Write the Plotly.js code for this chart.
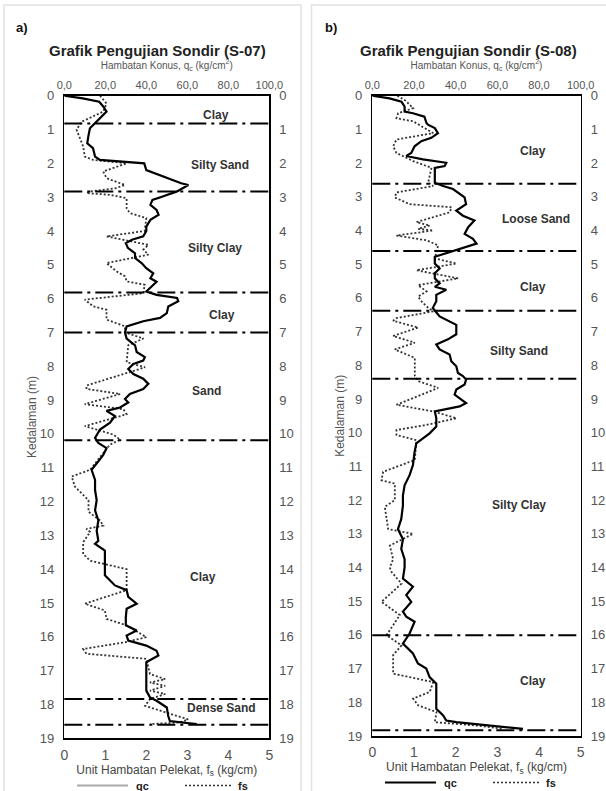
<!DOCTYPE html>
<html>
<head>
<meta charset="utf-8">
<script src="https://cdn.plot.ly/plotly-3.0.1.min.js"></script>
<style>html,body{margin:0;padding:0;background:#fff;}#chart{width:606px;height:791px;}</style>
</head>
<body>
<div id="chart"></div>
<script>
// ---------- DATA ----------
var depthTicks = [0,1,2,3,4,5,6,7,8,9,10,11,12,13,14,15,16,17,18,19];
var qcTickVals = [0,20,40,60,80,100];
var qcTickText = ["0,0","20,0","40,0","60,0","80,0","100,0"];
var fsTickVals = [0,1,2,3,4,5];

// S-07 : cone resistance qc (kg/cm2) vs depth (m)
var depthA_qc = [0,0.08,0.18,0.32,0.47,0.67,0.82,0.96,1.21,1.41,1.55,1.8,1.9,1.95,2.0,2.2,2.44,2.59,2.64,2.83,2.98,3.08,3.23,3.38,3.52,3.67,3.87,4.0,4.16,4.26,4.36,4.5,4.66,4.8,4.95,5.1,5.25,5.4,5.5,5.64,5.79,5.89,5.98,6.08,6.23,6.43,6.57,6.67,6.82,7.0,7.18,7.38,7.58,7.73,7.83,7.93,8.08,8.23,8.37,8.52,8.67,8.82,8.97,9.07,9.22,9.32,9.47,9.67,9.87,10.12,10.27,10.42,10.62,10.81,11.06,11.36,11.66,11.96,12.26,12.56,12.86,13.16,13.25,13.45,13.75,14.0,14.18,14.48,14.62,14.82,15.02,15.17,15.42,15.66,15.81,15.96,16.11,16.26,16.41,16.55,16.75,17.0,17.3,17.59,17.79,17.89,18.09,18.34,18.49,18.53,18.58];
var qcA = [0,9,17,19,20.6,17.4,15,12.5,11.7,11.2,14,15,17.4,30,39,40,50,57,60.5,55,48,43,42,45,46,42,40,40,38.5,33,30,31,34.5,34.5,37.7,40,43.4,42,45,42.6,40,45,55,55.6,50.7,50,46.7,38.5,30.4,29.6,30.4,34.5,35.3,39.3,38.5,33.7,31.2,33.7,38.5,41,38.5,32,29.6,31.2,27.2,20.6,24.7,22.3,17.4,15,16.6,20.6,19,16.6,13.3,15,15,15.8,15,16.6,15.8,16.6,15,19.8,19.8,19.8,19.8,24.7,30.4,31.2,35.3,30.4,30,30,35.3,30.4,31.2,40,45,45.9,40,40,40,40,41.8,45,50,50.7,51.5,58,64.6];

// S-07 : sleeve friction fs (kg/cm) vs depth (m)
var depthA_fs = [0,0.23,0.47,0.77,1.01,1.26,1.5,1.8,1.9,2.0,2.24,2.44,2.64,2.74,2.83,2.88,2.93,3.03,3.33,3.47,3.62,4.0,4.16,4.41,4.55,4.7,4.95,5.2,5.34,5.49,5.59,5.84,6.03,6.23,6.33,6.62,6.82,7.0,7.18,7.38,7.88,8.03,8.57,8.67,8.82,9.12,9.27,9.42,9.77,10.02,10.17,10.32,11.06,11.26,11.56,11.96,12.3,12.56,12.71,12.81,12.9,13.2,13.55,13.75,14.0,14.62,15.02,15.22,15.47,15.66,16.01,16.16,16.36,16.5,16.65,17.1,17.25,17.35,17.45,17.59,17.69,17.84,18.04,18.29,18.44,18.53,18.58];
var fsA = [0.87,1.03,0.95,0.42,0.3,0.38,0.46,0.5,0.71,1.52,0.95,1.03,1.48,1.24,0.63,0.54,1.11,1.52,1.52,1.6,2.0,1.96,1.03,2.05,1.93,2.05,1.03,1.28,1.48,1.52,1.96,1.93,0.5,0.71,1.03,1.03,1.48,1.48,1.93,1.56,1.52,1.97,0.54,0.54,1.36,0.5,1.44,1.52,0.5,1.2,1.36,1.11,0.63,0.18,0.26,0.59,0.59,0.87,0.95,0.54,0.63,0.46,0.46,0.63,1.52,1.52,0.5,0.99,1.03,1.52,2.0,1.48,0.46,0.54,2.0,2.09,2.46,2.09,2.46,2.09,2.46,2.09,1.97,2.62,3.02,2.82,2.09];

// S-08 : cone resistance qc
var depthB_qc = [0,0.08,0.18,0.32,0.47,0.52,0.62,0.81,0.86,0.96,1.11,1.25,1.35,1.5,1.7,1.79,1.89,1.99,2.09,2.14,2.38,2.58,2.68,2.77,3.02,3.22,3.41,3.56,3.7,3.9,4.1,4.25,4.39,4.49,4.64,4.78,4.98,5.13,5.27,5.42,5.57,5.67,5.76,5.91,6.1,6.3,6.55,6.8,7.08,7.23,7.38,7.53,7.68,7.88,8.03,8.23,8.32,8.42,8.57,8.72,8.87,8.97,9.12,9.22,9.37,9.57,9.82,10.02,10.32,10.57,10.96,11.26,11.56,11.86,12.16,12.56,12.86,13.16,13.45,13.75,14.0,14.33,14.57,14.82,15.02,15.31,15.46,15.61,15.96,16.26,16.55,16.85,17.0,17.25,17.45,17.89,18.19,18.39,18.54,18.59,18.69,18.79];
var qcB = [0,8.3,14,15.5,15.5,19.5,25,26,26.7,30,31.5,28.3,23.5,20.3,18.7,16.3,24.3,35.5,34.7,30,30,30,34,38.7,44.3,45,40.3,43.5,49,46,44.3,48.3,50,45,37,30,30,32.3,30,30,32.3,30,35.5,30.7,30.7,29,32.3,40.3,40.3,36.3,30.7,32.3,37.1,37.9,40.3,41.1,43.5,45,44.3,40.3,39.5,41.9,45,41.9,30,30.7,30.7,27.5,21.1,20.3,19.5,17.9,15.5,14.7,14.7,13.9,12.3,14.7,13.9,15.5,15.5,14.7,19.5,16.3,18.7,14.7,16.3,20.3,17.9,14.7,19.5,21.9,25.9,27.5,30.7,30.7,30.7,34,35.5,40.3,56.3,72.3];

// S-08 : sleeve friction fs
var depthB_fs = [0,0.15,0.37,0.52,0.67,0.76,1.11,1.3,1.5,1.7,1.94,2.14,2.58,2.68,2.87,3.02,3.22,3.31,3.46,3.75,3.85,3.95,4.0,4.15,4.29,4.44,4.83,4.98,5.18,5.28,5.42,5.62,5.81,5.96,6.1,6.25,6.4,6.6,6.68,6.88,7.13,7.33,7.53,7.78,8.32,8.47,8.67,9.17,9.37,9.57,9.77,9.92,10.07,10.22,10.81,11.16,11.41,11.51,12.0,12.2,12.86,13.0,13.35,13.75,14.0,14.13,14.48,15.02,15.41,15.71,16.01,16.31,16.6,17.15,17.4,17.69,17.89,18.09,18.29,18.59,18.69,18.79];
var fsB = [0.6,0.8,0.98,0.62,0.58,0.98,1.46,0.58,0.5,0.58,0.98,1.42,1.34,1.46,0.58,0.54,0.9,1.9,1.86,1.06,1.38,1.1,1.46,0.58,1.3,1.58,1.5,2.02,1.06,1.46,2.06,1.1,1.3,1.1,1.18,1.3,1.46,0.58,0.5,1.1,0.5,1.02,0.54,1.02,1.02,1.1,1.58,0.58,1.46,2.02,1.3,0.58,0.58,1.06,1.02,0.26,0.22,0.54,0.54,0.3,0.38,0.98,0.42,0.5,0.42,0.46,0.7,0.22,0.66,0.5,0.34,0.7,0.5,0.5,1.46,1.38,0.98,1.1,1.54,1.5,2.5,3.14];

// soil layer boundaries (m) and layer names
var boundA = [0.82,2.83,5.82,7.0,10.19,17.84,18.6];
var layerNameA = ["Clay","Silty Sand","Silty Clay","Clay","Sand","Clay","Dense Sand"];
var layerDepthA = [0.57,2.05,4.49,6.48,8.72,14.23,18.09];
var layerPosA = [74,76,73.5,76.7,69.4,67.8,76.7];

var boundB = [2.61,4.61,6.38,8.4,16.01,18.83];
var layerNameB = ["Clay","Loose Sand","Clay","Silty Sand","Silty Clay","Clay"];
var layerDepthB = [1.65,3.66,5.67,7.58,12.14,17.38];
var layerPosB = [77,78.7,77,70.4,70.4,77];

// ---------- LAYOUT HELPERS ----------
var W = 606, H = 791;
var FONT = "Liberation Sans, Arial, sans-serif";
function px(x){return x/W;}
function py(y){return 1 - y/H;}

var domAx = [px(64.3), px(269.3)];
var domBx = [px(372.3), px(580.7)];
var domAy = [py(738.3), py(95.7)];
var domBy = [py(736), py(95.7)];

function fsAxis(dom, anchor){
  return {domain: dom, anchor: anchor, side: "bottom", range: [0,5], tickvals: fsTickVals,
    showline: true, mirror: true, linecolor: "#000", linewidth: 1.5, showgrid: false, zeroline: false,
    ticks: "", ticklabelstandoff: 3, tickfont: {size: 14, color: "#555", family: FONT},
    title: {text: "Unit Hambatan Pelekat, f<sub>s</sub> (kg/cm)", font: {size: 12, color: "#444", family: FONT}, standoff: 0}};
}
function qcAxis(over, anchor){
  return {overlaying: over, anchor: anchor, side: "top", range: [0,100], tickvals: qcTickVals, ticktext: qcTickText,
    showline: false, showgrid: false, zeroline: false, ticks: "", ticklabelstandoff: 4,
    tickfont: {size: 11, color: "#555", family: FONT},
    title: {text: "Hambatan Konus, q<sub>c</sub> (kg/cm<sup>2</sup>)", font: {size: 10, color: "#555", family: FONT}, standoff: 7}};
}
function depthAxis(dom, anchor, withTitle){
  var a = {domain: dom, anchor: anchor, range: [19,0], tickvals: depthTicks,
    showline: true, mirror: true, linecolor: "#000", linewidth: 1.5, showgrid: false, zeroline: false,
    ticks: "", ticklabelstandoff: 6, tickfont: {size: 13, color: "#555", family: FONT}};
  if (withTitle) a.title = {text: "Kedalaman (m)", font: {size: 12, color: "#555", family: FONT}, standoff: 0};
  return a;
}
function depthAxisRight(over, anchor){
  return {overlaying: over, anchor: anchor, side: "right", range: [19,0], tickvals: depthTicks,
    showline: false, showgrid: false, zeroline: false, ticks: "", ticklabelstandoff: 9,
    tickfont: {size: 13, color: "#555", family: FONT}};
}

var qcLine = {color: "#000", width: 2.2};
var fsLine = {color: "#333", width: 1.8, dash: "2px,2px"};

var traces = [
  {type: "scatter", mode: "lines", name: "qc", x: qcA, y: depthA_qc, xaxis: "x2", yaxis: "y", line: qcLine, showlegend: false},
  {type: "scatter", mode: "lines", name: "fs", x: fsA, y: depthA_fs, xaxis: "x", yaxis: "y2", line: fsLine, showlegend: false},
  {type: "scatter", mode: "lines", name: "qc", x: qcB, y: depthB_qc, xaxis: "x4", yaxis: "y3", line: qcLine, showlegend: false},
  {type: "scatter", mode: "lines", name: "fs", x: fsB, y: depthB_fs, xaxis: "x3", yaxis: "y4", line: fsLine, showlegend: false}
];

var shapes = [];
var annotations = [];
var boundDash = "18px,5px,3px,5px";
boundA.forEach(function(d){
  shapes.push({type: "line", xref: "x domain", yref: "y", x0: 0, x1: 1.01, y0: d, y1: d, line: {color: "#000", width: 2, dash: boundDash}});
});
boundB.forEach(function(d){
  shapes.push({type: "line", xref: "x3 domain", yref: "y3", x0: 0, x1: 1, y0: d, y1: d, line: {color: "#000", width: 2, dash: boundDash}});
});
layerNameA.forEach(function(t,i){
  annotations.push({text: "<b>"+t+"</b>", xref: "x2", yref: "y", x: layerPosA[i], y: layerDepthA[i], xanchor: "center", yanchor: "middle", showarrow: false, font: {size: 12, color: "#333", family: FONT}});
});
layerNameB.forEach(function(t,i){
  annotations.push({text: "<b>"+t+"</b>", xref: "x4", yref: "y3", x: layerPosB[i], y: layerDepthB[i], xanchor: "center", yanchor: "middle", showarrow: false, font: {size: 12, color: "#333", family: FONT}});
});

// panel frames
shapes.push({type: "rect", xref: "paper", yref: "paper", x0: px(4), x1: px(301), y0: -0.05, y1: py(5), line: {color: "#e2e2e2", width: 1.5}, layer: "below"});
shapes.push({type: "rect", xref: "paper", yref: "paper", x0: px(311.5), x1: 1.05, y0: -0.05, y1: py(5), line: {color: "#e2e2e2", width: 1.5}, layer: "below"});

function note(text, x, y, size, color){
  annotations.push({text: text, xref: "paper", yref: "paper", x: px(x), y: py(y), xanchor: "center", yanchor: "middle", showarrow: false, font: {size: size, color: color, family: FONT}});
}
// panel tags and chart titles
note("<b>a)</b>", 22, 27, 13, "#111");
note("<b>b)</b>", 331, 27, 13, "#111");
note("<b>Grafik Pengujian Sondir (S-07)</b>", 157.5, 50, 15, "#222");
note("<b>Grafik Pengujian Sondir (S-08)</b>", 468.5, 50, 15, "#222");

// hand-drawn legends below each panel
function legend(x0, y, qcColor){
  shapes.push({type: "line", xref: "paper", yref: "paper", x0: px(x0), x1: px(x0+51), y0: py(y), y1: py(y), line: {color: qcColor, width: 2}});
  annotations.push({text: "<b>qc</b>", xref: "paper", yref: "paper", x: px(x0+57), y: py(y), xanchor: "left", yanchor: "middle", showarrow: false, font: {size: 11, color: "#222", family: FONT}});
  shapes.push({type: "line", xref: "paper", yref: "paper", x0: px(x0+108), x1: px(x0+156), y0: py(y), y1: py(y), line: {color: "#333", width: 1.5, dash: "2px,2px"}});
  annotations.push({text: "<b>fs</b>", xref: "paper", yref: "paper", x: px(x0+159), y: py(y), xanchor: "left", yanchor: "middle", showarrow: false, font: {size: 11, color: "#222", family: FONT}});
}
legend(77, 785.5, "#aaa");
legend(385, 782.5, "#000");

var layout = {
  width: W, height: H,
  margin: {l: 0, r: 0, t: 0, b: 0},
  paper_bgcolor: "#fff", plot_bgcolor: "rgba(0,0,0,0)",
  font: {family: FONT},
  showlegend: false,
  xaxis: fsAxis(domAx, "y"),
  xaxis2: qcAxis("x", "y"),
  yaxis: depthAxis(domAy, "x", true),
  yaxis2: depthAxisRight("y", "x"),
  xaxis3: fsAxis(domBx, "y3"),
  xaxis4: qcAxis("x3", "y3"),
  yaxis3: depthAxis(domBy, "x3", true),
  yaxis4: depthAxisRight("y3", "x3"),
  shapes: shapes,
  annotations: annotations
};

Plotly.newPlot("chart", traces, layout, {displayModeBar: false, staticPlot: true});
</script>
</body>
</html>
